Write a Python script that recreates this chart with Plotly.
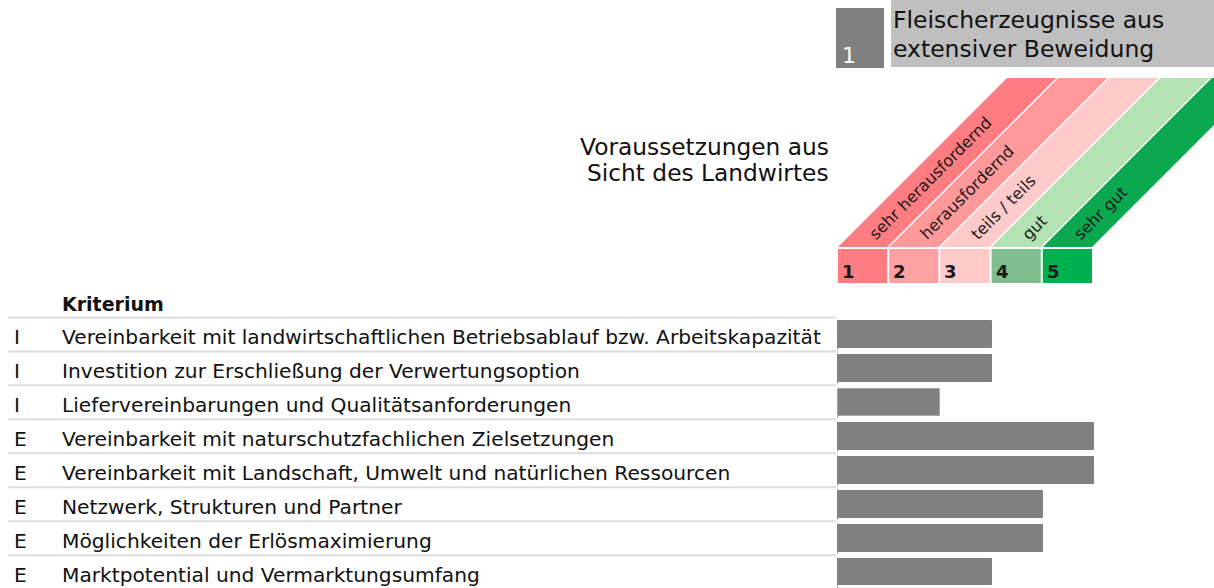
import math
import plotly.graph_objects as go

# ---------------- data ----------------
codes = ["I", "I", "I", "E", "E", "E", "E", "E"]
criteria = [
    "Vereinbarkeit mit landwirtschaftlichen Betriebsablauf bzw. Arbeitskapazität",
    "Investition zur Erschließung der Verwertungsoption",
    "Liefervereinbarungen und Qualitätsanforderungen",
    "Vereinbarkeit mit naturschutzfachlichen Zielsetzungen",
    "Vereinbarkeit mit Landschaft, Umwelt und natürlichen Ressourcen",
    "Netzwerk, Strukturen und Partner",
    "Möglichkeiten der Erlösmaximierung",
    "Marktpotential und Vermarktungsumfang",
]
scores = [3, 3, 2, 5, 5, 4, 4, 3]
scale_levels = [1, 2, 3, 4, 5]
scale_labels = ["sehr herausfordernd", "herausfordernd", "teils / teils", "gut", "sehr gut"]
column_header = "Kriterium"
option_number = "1"
option_title = ["Fleischerzeugnisse aus", "extensiver Beweidung"]
perspective = ["Voraussetzungen aus", "Sicht des Landwirtes"]

# ---------------- layout constants ----------------
W, H = 1214, 588
X0 = 838.0      # pixel of x = 0
UX = 51.2       # pixels per score unit
ROW0 = 334.4    # pixel of first row centre
UY = 33.96      # pixels per row
FONT = "DejaVu Sans"
LABEL_FS = 20.2
LABEL_DY = 3.0 / UY

band_colors = ["#FF7C80", "#FF9999", "#FFCACA", "#B3E3B5", "#0AA84F"]
box_colors = ["#FF7C80", "#FFA0A2", "#FFCACA", "#80BE8F", "#00B050"]
bar_color = "#808080"


def px2x(px):
    return (px - X0) / UX


def px2y(py):
    return (py - ROW0) / UY


rows = list(range(len(criteria)))

fig = go.Figure()
fig.add_trace(go.Bar(
    x=scores, y=rows, orientation="h", base=0,
    width=26.7 / UY,
    marker=dict(color=bar_color,
                line=dict(color=["#a6a6a6" if s == 2 else bar_color for s in scores], width=1)),
    hoverinfo="skip", showlegend=False,
))

shapes = []
annotations = []

# row separators and axis segments
for k in rows:
    shapes.append(dict(type="line", xref="x", yref="y",
                       x0=px2x(8), x1=px2x(836), y0=k - 0.5, y1=k - 0.5,
                       line=dict(color="#dcdcdc", width=2), layer="below"))
    shapes.append(dict(type="line", xref="x", yref="y",
                       x0=px2x(837.5), x1=px2x(837.5),
                       y0=k - 0.5 + 2 / UY, y1=k + 0.5 - 1 / UY,
                       line=dict(color="#a6a6a6", width=1), layer="below"))

# header boxes
shapes.append(dict(type="rect", xref="x", yref="y",
                   x0=px2x(836), x1=px2x(884), y0=px2y(8), y1=px2y(68),
                   fillcolor="#808080", line=dict(width=0), layer="below"))
shapes.append(dict(type="rect", xref="x", yref="y",
                   x0=px2x(891), x1=px2x(W + 2), y0=px2y(-2), y1=px2y(67),
                   fillcolor="#BFBFBF", line=dict(width=0), layer="below"))

# diagonal bands and scale boxes
BAND_BOTTOM, BAND_TOP = 247.0, 78.0
shift = (BAND_BOTTOM - BAND_TOP) / UX   # 45 degrees in pixel space
gap = 2.0 / UX
for i, lvl in enumerate(scale_levels):
    xl = lvl - 1
    xr = lvl - gap
    yb, yt = px2y(BAND_BOTTOM), px2y(BAND_TOP)
    path = (f"M {xl},{yb} L {xr},{yb} L {xr + shift},{yt} "
            f"L {xl + shift},{yt} Z")
    shapes.append(dict(type="path", xref="x", yref="y", path=path,
                       fillcolor=band_colors[i], line=dict(width=0), layer="below"))
    shapes.append(dict(type="rect", xref="x", yref="y",
                       x0=xl, x1=xr, y0=px2y(249), y1=px2y(283),
                       fillcolor=box_colors[i], line=dict(width=0), layer="below"))
    annotations.append(dict(x=xl + 2 / UX, y=px2y(271), xref="x", yref="y",
                            text=f"<b>{lvl}</b>", showarrow=False,
                            xanchor="left", yanchor="middle",
                            font=dict(family=FONT, size=18, color="#1a1a1a")))

# band labels, rotated along the band centre line
cw = {"s": .521, "e": .615, "h": .634, "r": .411, " ": .318, "a": .613, "u": .634,
      "f": .352, "o": .612, "d": .635, "n": .634, "t": .392, "i": .278, "l": .278,
      "/": .337, "g": .635}
BAND_FS = 16.2
for i, lvl in enumerate(scale_levels):
    txt = scale_labels[i]
    L = sum(cw.get(c, .6) for c in txt) * BAND_FS
    yc = BAND_BOTTOM - 10 - L / (2 * math.sqrt(2))
    xc = X0 + (lvl - 0.5) * UX - 1 + (BAND_BOTTOM - yc) - 1
    annotations.append(dict(x=px2x(xc), y=px2y(yc), xref="x", yref="y",
                            text=txt, showarrow=False, textangle=-45,
                            xanchor="center", yanchor="middle",
                            font=dict(family=FONT, size=BAND_FS, color="#1a1a1a")))

# header texts
annotations.append(dict(x=px2x(840), y=px2y(55), xref="x", yref="y",
                        text=option_number, showarrow=False,
                        xanchor="left", yanchor="middle",
                        font=dict(family=FONT, size=22, color="white")))
for j, line in enumerate(option_title):
    annotations.append(dict(x=px2x(891), y=px2y(20 + 28.5 * j), xref="x", yref="y",
                            text=line, showarrow=False,
                            xanchor="left", yanchor="middle",
                            font=dict(family=FONT, size=23.5, color="#111111")))
for j, line in enumerate(perspective):
    annotations.append(dict(x=px2x(831), y=px2y(146 + 26.7 * j), xref="x", yref="y",
                            text=line, showarrow=False,
                            xanchor="right", yanchor="middle",
                            font=dict(family=FONT, size=23.3, color="#111111")))

# column header and row labels
annotations.append(dict(x=px2x(60), y=px2y(304), xref="x", yref="y",
                        text=f"<b>{column_header}</b>", showarrow=False,
                        xanchor="left", yanchor="middle",
                        font=dict(family=FONT, size=19, color="#111111")))
for k in rows:
    annotations.append(dict(x=px2x(12), y=k + LABEL_DY, xref="x", yref="y",
                            text=codes[k], showarrow=False,
                            xanchor="left", yanchor="middle",
                            font=dict(family=FONT, size=LABEL_FS, color="#111111")))
    annotations.append(dict(x=px2x(60), y=k + LABEL_DY, xref="x", yref="y",
                            text=criteria[k], showarrow=False,
                            xanchor="left", yanchor="middle",
                            font=dict(family=FONT, size=LABEL_FS, color="#111111")))

fig.update_layout(
    width=W, height=H,
    margin=dict(l=0, r=0, t=0, b=0, pad=0),
    paper_bgcolor="white", plot_bgcolor="white",
    xaxis=dict(range=[px2x(0), px2x(W)], domain=[0, 1], visible=False, fixedrange=True),
    yaxis=dict(range=[px2y(H), px2y(0)], domain=[0, 1], visible=False, fixedrange=True),
    shapes=shapes, annotations=annotations,
    showlegend=False, bargap=0,
)

fig.write_html("out.html", config={"displayModeBar": False})
